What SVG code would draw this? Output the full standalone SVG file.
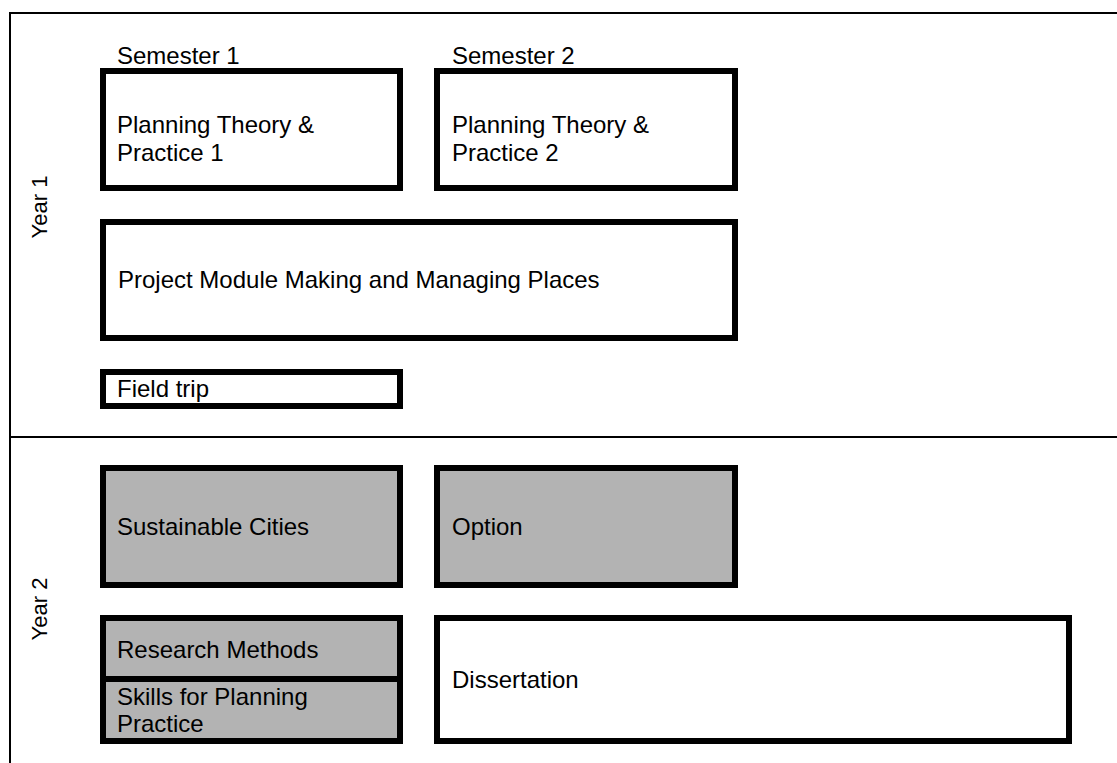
<svg xmlns="http://www.w3.org/2000/svg" width="1117" height="763" viewBox="0 0 1117 763">
<style>
.frame{stroke:#000;stroke-width:2;fill:none}
.box{stroke:#000;stroke-width:6;fill:#fff}
.grey{fill:#b3b3b3}
text{font-family:"Liberation Sans",Arial,sans-serif;font-size:24px;fill:#000}
.yr{font-size:22px}
</style>
<rect width="1117" height="763" fill="#fff"/>
<g id="frame">
<line class="frame" x1="10" y1="13" x2="1117" y2="13"/>
<line class="frame" x1="10" y1="437" x2="1117" y2="437"/>
<line class="frame" x1="10" y1="12" x2="10" y2="763"/>
<text class="yr" transform="translate(47,207) rotate(-90)" text-anchor="middle">Year 1</text>
<text class="yr" transform="translate(47,609) rotate(-90)" text-anchor="middle">Year 2</text>
<text x="117" y="64">Semester 1</text>
<text x="452" y="64">Semester 2</text>
</g>
<g id="ptp1">
<rect class="box" x="103" y="71" width="297" height="117"/>
<text x="117" y="133">Planning Theory &amp;</text>
<text x="117" y="161">Practice 1</text>
</g>
<g id="ptp2">
<rect class="box" x="437" y="71" width="298" height="117"/>
<text x="452" y="133">Planning Theory &amp;</text>
<text x="452" y="161">Practice 2</text>
</g>
<g id="project">
<rect class="box" x="103" y="222" width="632" height="116"/>
<text x="118" y="288">Project Module Making and Managing Places</text>
</g>
<g id="fieldtrip">
<rect class="box" x="103" y="372" width="297" height="34"/>
<text x="117" y="397">Field trip</text>
</g>
<g id="sustainable">
<rect class="box grey" x="103" y="468" width="297" height="117"/>
<text x="117" y="535">Sustainable Cities</text>
</g>
<g id="option">
<rect class="box grey" x="437" y="468" width="298" height="117"/>
<text x="452" y="535">Option</text>
</g>
<g id="research">
<rect class="box grey" x="103" y="618" width="297" height="61"/>
<text x="117" y="658">Research Methods</text>
</g>
<g id="skills">
<rect class="box grey" x="103" y="679" width="297" height="62"/>
<text x="117" y="705">Skills for Planning</text>
<text x="117" y="732">Practice</text>
</g>
<g id="dissertation">
<rect class="box" x="437" y="618" width="632" height="123"/>
<text x="452" y="688">Dissertation</text>
</g>
<g id="connectors"></g>
</svg>
